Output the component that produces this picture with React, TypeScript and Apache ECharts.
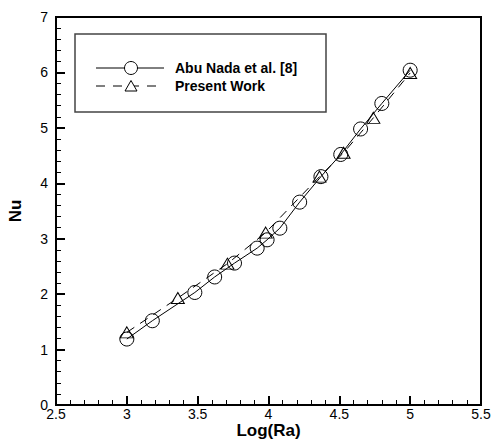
import React, { useEffect, useRef } from "react";
import * as echarts from "echarts";

const abuNadaLogRa = [3.0, 3.18, 3.48, 3.62, 3.76, 3.92, 3.99, 4.08, 4.22, 4.37, 4.51, 4.65, 4.8, 5.0];
const abuNadaNu = [1.19, 1.52, 2.03, 2.31, 2.56, 2.83, 2.98, 3.19, 3.66, 4.12, 4.52, 4.98, 5.44, 6.04];
const presentLogRa = [3.0, 3.36, 3.71, 3.98, 4.36, 4.53, 4.74, 5.0];
const presentNu = [1.31, 1.93, 2.55, 3.11, 4.12, 4.55, 5.18, 5.99];
const legendNames = ["Abu Nada et al. [8]", "Present Work"];
const xAxisName = "Log(Ra)";
const yAxisName = "Nu";

const FONT = '"Liberation Sans", Arial, Helvetica, sans-serif';

export default function App() {
  const ref = useRef<HTMLDivElement>(null);
  useEffect(() => {
    if (!ref.current) return;
    const chart = echarts.init(ref.current, undefined, { renderer: "svg" });
    const axisCommon = {
      axisLine: { show: true, onZero: false, lineStyle: { color: "#000", width: 2 } },
      axisTick: { show: true, inside: true, length: 9, lineStyle: { color: "#000", width: 2 } },
      minorTick: { show: true, splitNumber: 5, length: 5, lineStyle: { color: "#000", width: 1 } },
      splitLine: { show: false },
      minorSplitLine: { show: false },
      axisLabel: { color: "#000", fontSize: 14, lineHeight: 14, fontFamily: FONT, showMinLabel: true, showMaxLabel: true },
      nameTextStyle: { color: "#000", fontSize: 17, lineHeight: 17, fontWeight: "bold", fontFamily: FONT },
      nameMoveOverlap: false,
    };
    chart.setOption({
      animation: false,
      backgroundColor: "#fff",
      grid: {
        left: 56,
        top: 17,
        right: 12,
        bottom: 38,
        containLabel: false,
        outerBoundsMode: "none",
        show: true,
        borderColor: "#000",
        borderWidth: 2,
        backgroundColor: "transparent",
      },
      xAxis: {
        type: "value",
        min: 2.5,
        max: 5.5,
        interval: 0.5,
        name: xAxisName,
        nameLocation: "middle",
        nameGap: 17,
        ...axisCommon,
        axisLabel: { ...axisCommon.axisLabel, margin: 2 },
      },
      yAxis: {
        type: "value",
        min: 0,
        max: 7,
        interval: 1,
        name: yAxisName,
        nameLocation: "middle",
        nameGap: 32,
        ...axisCommon,
        axisLabel: { ...axisCommon.axisLabel, margin: 8 },
      },
      series: [
        {
          name: legendNames[0],
          type: "line",
          data: abuNadaLogRa.map((x, i) => [x, abuNadaNu[i]]),
          symbol: "circle",
          symbolSize: 14,
          lineStyle: { color: "#000", width: 1, type: "solid" },
          itemStyle: { color: "rgba(0,0,0,0)", borderColor: "#000", borderWidth: 1 },
        },
        {
          name: legendNames[1],
          type: "line",
          data: presentLogRa.map((x, i) => [x, presentNu[i]]),
          symbol: "triangle",
          symbolSize: [13, 11],
          lineStyle: { color: "#000", width: 1, type: [9, 7] },
          itemStyle: { color: "rgba(0,0,0,0)", borderColor: "#000", borderWidth: 1 },
        },
      ],
      graphic: [
        {
          type: "rect",
          shape: { x: 75, y: 34, width: 251, height: 78 },
          style: { fill: "#fff", stroke: "#444", lineWidth: 1.5 },
          z: 10,
        },
        {
          type: "line",
          shape: { x1: 96, y1: 68, x2: 164, y2: 68 },
          style: { stroke: "#000", lineWidth: 1 },
          z: 11,
        },
        {
          type: "circle",
          shape: { cx: 131, cy: 68, r: 6.5 },
          style: { fill: "#fff", stroke: "#000", lineWidth: 1 },
          z: 12,
        },
        {
          type: "line",
          shape: { x1: 96, y1: 86, x2: 164, y2: 86 },
          style: { stroke: "#000", lineWidth: 1, lineDash: [9, 8] },
          z: 11,
        },
        {
          type: "polygon",
          shape: { points: [[131, 80.5], [125, 91], [137, 91]] },
          style: { fill: "#fff", stroke: "#000", lineWidth: 1 },
          z: 12,
        },
        {
          type: "text",
          x: 175,
          y: 68,
          style: {
            text: legendNames[0],
            fill: "#000",
            fontSize: 14,
            fontWeight: "bold",
            fontFamily: FONT,
            verticalAlign: "middle",
            textVerticalAlign: "middle",
          },
          z: 12,
        },
        {
          type: "text",
          x: 175,
          y: 86,
          style: {
            text: legendNames[1],
            fill: "#000",
            fontSize: 14,
            fontWeight: "bold",
            fontFamily: FONT,
            verticalAlign: "middle",
            textVerticalAlign: "middle",
          },
          z: 12,
        },
      ],
    });
    return () => chart.dispose();
  }, []);
  return (
    <div
      ref={ref}
      style={{ position: "absolute", left: 0, top: 0, width: 493, height: 443 }}
    />
  );
}
